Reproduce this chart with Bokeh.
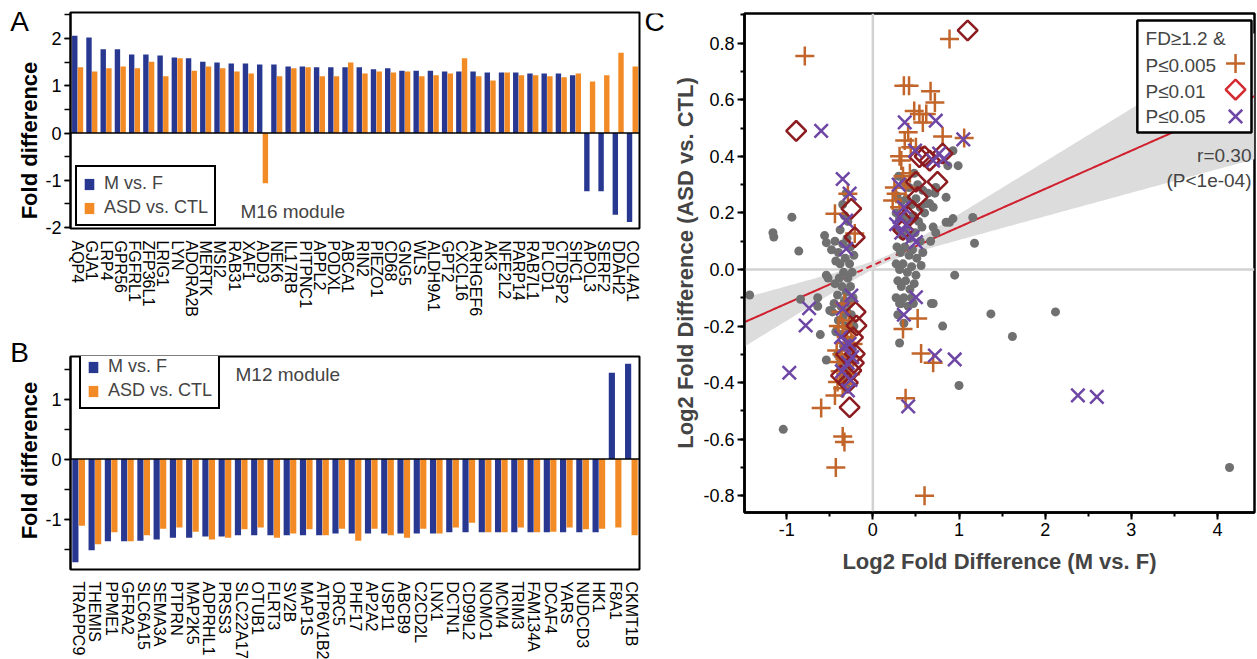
import math
import numpy as np
from bokeh.plotting import figure
from bokeh.layouts import row, column
from bokeh.models import (FactorRange, Range1d, SingleIntervalTicker, Legend, LegendItem,
                          Label, ColumnDataSource, Span, PrintfTickFormatter)
from bokeh.transform import dodge
from bokeh.embed import file_html
from bokeh.resources import INLINE

FONT = "Liberation Sans"
BLUE = "#283891"
ORANGE = "#f28a26"
GRAY = "#707070"
PLUS_C = "#c2652a"
DIAM_C = "#8c1c20"
DIAM_LEG = "#d42a32"
PURPLE = "#6e46a5"

# ---------------- Panel A data (M16 module) ----------------
genes_A = ["AQP4", "GJA1", "LRP4", "GPR56", "FGFRL1", "ZFP36L1", "LRIG1", "LYN", "ADORA2B", "MERTK",
           "MSI2", "RAB31", "XAF1", "ADD3", "NEK6", "IL17RB", "PITPNC1", "APPL2", "PODXL", "ABCA1",
           "RIN2", "PIEZO1", "CD68", "GNG5", "WLS", "ALDH9A1", "GPT2", "CXCL16", "ARHGEF6", "AK3",
           "NFE2L2", "PARP14", "RAB7L1", "PLCD1", "CTDSP2", "SHC1", "APOL3", "SERF2", "DDAH2", "COL4A1"]
mf_A = [2.06, 2.02, 1.77, 1.77, 1.66, 1.66, 1.64, 1.60, 1.58, 1.51,
        1.49, 1.47, 1.47, 1.45, 1.45, 1.41, 1.41, 1.39, 1.39, 1.39,
        1.39, 1.35, 1.37, 1.32, 1.32, 1.32, 1.30, 1.30, 1.30, 1.28,
        1.28, 1.28, 1.26, 1.26, 1.26, 1.22, -1.23, -1.23, -1.73, -1.88]
asd_A = [1.39, 1.30, 1.37, 1.41, 1.37, 1.51, 1.20, 1.58, 1.32, 1.41,
         1.37, 1.30, 1.26, -1.06, 1.20, 1.37, 1.39, 1.20, 1.20, 1.49,
         1.26, 1.30, 1.28, 1.30, 1.20, 1.22, 1.26, 1.58, 1.20, 1.11,
         1.28, 1.22, 1.22, 1.20, 1.18, 1.26, 1.09, 1.22, 1.70, 1.41]

# ---------------- Panel B data (M12 module) ----------------
genes_B = ["TRAPPC9", "THEMIS", "PPME1", "GFRA2", "SLC6A15", "SEMA3A", "PTPRN", "MAP2K5", "ADPRHL1",
           "PRSS3", "SLC22A17", "OTUB1", "FLRT3", "SV2B", "MAP1S", "ATP6V1B2", "ORC5", "PHF17",
           "AP2A2", "USP11", "ABCB9", "C2CD2L", "LNX1", "DCTN1", "CD99L2", "NOMO1", "MCM4", "TRIM3",
           "FAM134A", "DCAF4", "YARS", "NUDCD3", "HK1", "F8A1", "CKMT1B"]
mf_B = [-1.72, -1.52, -1.37, -1.37, -1.36, -1.34, -1.31, -1.31, -1.29, -1.29,
        -1.27, -1.27, -1.27, -1.27, -1.27, -1.27, -1.24, -1.24, -1.24, -1.24,
        -1.24, -1.24, -1.24, -1.22, -1.22, -1.22, -1.22, -1.22, -1.22, -1.22,
        -1.22, -1.22, -1.22, 1.44, 1.59]
asd_B = [-1.11, -1.42, -1.22, -1.37, -1.27, -1.16, -1.14, -1.21, -1.34, -1.31,
         -1.17, -1.14, -1.31, -1.24, -1.17, -1.27, -1.16, -1.36, -1.16, -1.27,
         -1.31, -1.16, -1.24, -1.14, -1.06, -1.22, -1.22, -1.14, -1.22, -1.21,
         -1.14, -1.17, -1.16, -1.14, -1.27]

# ---------------- Panel C data (log2 FD M vs F, log2 FD ASD vs CTL) ----------------
gray_pts = [
    (-1.43, -0.09), (-1.16, 0.13), (-1.15, 0.115), (-0.94, 0.185), (-0.86, 0.065), (-1.04, -0.565),
    (-0.84, -0.105), (-0.64, -0.13), (-0.64, -0.10), (-0.61, -0.23), (-0.54, -0.32), (-0.56, 0.12),
    (-0.54, 0.095), (-0.54, -0.02), (-0.52, -0.03), (-0.50, -0.145),
    (1.37, -0.157), (2.12, -0.15), (1.62, -0.237), (0.81, -0.20), (1.00, -0.41), (4.14, -0.70),
    (0.99, 0.367), (0.93, 0.42), (0.87, 0.367), (0.85, 0.255), (1.16, 0.184), (1.18, 0.093),
    (0.95, -0.02), (0.93, 0.18), (0.85, 0.167), (0.89, 0.167), (0.73, 0.13), (0.70, 0.15),
    (0.67, 0.10), (0.72, 0.27), (0.62, 0.233), (0.66, 0.233), (0.64, 0.27), (0.73, 0.29),
    (0.70, 0.22), (0.56, 0.014), (0.68, -0.12), (0.70, -0.12), (0.31, -0.26), (0.33, -0.12),
    (0.47, -0.12),
    # right cluster
    (0.30, 0.33), (0.36, 0.31), (0.42, 0.29), (0.48, 0.34), (0.52, 0.30), (0.58, 0.28),
    (0.28, 0.26), (0.33, 0.24), (0.39, 0.25), (0.45, 0.23), (0.50, 0.25), (0.55, 0.22), (0.60, 0.20),
    (0.27, 0.20), (0.31, 0.18), (0.36, 0.19), (0.41, 0.17), (0.47, 0.19), (0.53, 0.17), (0.57, 0.15),
    (0.29, 0.14), (0.34, 0.12), (0.38, 0.14), (0.43, 0.11), (0.49, 0.13), (0.55, 0.10),
    (0.28, 0.08), (0.32, 0.06), (0.37, 0.08), (0.42, 0.05), (0.46, 0.07), (0.51, 0.04), (0.58, 0.06),
    (0.27, 0.02), (0.31, 0.00), (0.35, 0.02), (0.40, -0.01), (0.45, 0.01), (0.50, -0.02),
    (0.29, -0.04), (0.33, -0.06), (0.38, -0.04), (0.43, -0.07), (0.48, -0.05),
    (0.27, -0.10), (0.31, -0.12), (0.36, -0.10), (0.41, -0.13), (0.45, -0.10),
    (0.29, -0.16), (0.36, -0.19),
    # left cluster
    (-0.35, 0.23), (-0.31, 0.27), (-0.29, 0.17), (-0.33, 0.19), (-0.38, 0.14), (-0.44, 0.10), (-0.48, 0.07),
    (-0.40, 0.06), (-0.35, 0.09), (-0.30, 0.11), (-0.26, 0.08), (-0.32, 0.04), (-0.38, 0.02), (-0.43, 0.03),
    (-0.27, 0.02), (-0.34, -0.01), (-0.29, -0.03), (-0.24, -0.01), (-0.39, -0.03), (-0.44, -0.05),
    (-0.36, -0.06), (-0.31, -0.08), (-0.26, -0.06), (-0.41, -0.09), (-0.33, -0.11), (-0.28, -0.12),
    (-0.23, -0.10), (-0.37, -0.13), (-0.45, -0.12), (-0.30, -0.15), (-0.35, -0.17), (-0.25, -0.16),
    (-0.40, -0.18), (-0.32, -0.20), (-0.27, -0.21), (-0.37, -0.23), (-0.43, -0.22), (-0.29, -0.25),
    (-0.34, -0.27), (-0.24, -0.28), (-0.31, -0.31), (-0.38, -0.33), (-0.41, -0.30), (-0.28, -0.35),
    (-0.33, -0.38), (-0.30, -0.42), (-0.22, -0.20), (-0.22, 0.05), (-0.47, -0.15),
]
plus_pts = [
    (-0.79, 0.755), (0.89, 0.815), (-0.60, -0.49), (-0.35, -0.59), (-0.33, -0.61), (-0.43, -0.70),
    (0.60, -0.80), (0.38, -0.455), (0.35, -0.21), (0.52, -0.173), (0.56, -0.297), (0.70, -0.33),
    (0.36, 0.65), (0.42, 0.65), (0.67, 0.63), (0.72, 0.59), (0.48, 0.56), (0.54, 0.55), (0.62, 0.55),
    (0.58, 0.52), (0.41, 0.485), (0.37, 0.456), (0.81, 0.47), (1.06, 0.465), (0.50, 0.432),
    (0.44, 0.432), (0.31, 0.40), (0.33, 0.385), (0.25, 0.29), (0.27, 0.268), (0.23, 0.244),
    (0.31, 0.22), (0.38, 0.29), (0.43, 0.34), (0.35, 0.33),
    (-0.29, 0.268), (-0.44, 0.197), (-0.21, 0.127),
    (-0.35, -0.204), (-0.42, -0.286), (-0.31, -0.239), (-0.23, -0.263), (-0.39, -0.327), (-0.23, -0.31),
    (-0.41, -0.398), (-0.31, -0.404), (-0.44, -0.445), (-0.35, -0.42), (-0.37, -0.15), (-0.28, -0.18),
    (-0.26, -0.37), (-0.36, -0.30), (-0.30, -0.26), (-0.25, -0.22), (-0.38, -0.36), (-0.27, -0.33),
    (-0.33, -0.12), (-0.40, -0.20),
]
diam_pts = [
    (-0.89, 0.49), (1.10, 0.845), (0.81, 0.41), (0.60, 0.40), (0.54, 0.397), (0.66, 0.385), (0.75, 0.31),
    (0.50, 0.31), (0.52, 0.256), (0.46, 0.208), (0.41, 0.185), (0.35, 0.14),
    (-0.25, 0.215), (-0.21, 0.114), (-0.19, -0.198), (-0.21, -0.298), (-0.25, -0.357), (-0.37, -0.375),
    (-0.27, -0.487), (-0.23, -0.24), (-0.22, -0.33), (-0.29, -0.40), (-0.31, -0.30), (-0.20, -0.15),
]
x_pts = [
    (-0.60, 0.49), (2.38, -0.445), (2.60, -0.45), (0.72, -0.304), (0.95, -0.318), (0.41, -0.484),
    (0.36, -0.16), (0.50, -0.098), (-0.78, -0.198), (-0.74, -0.137), (-0.97, -0.365),
    (1.05, 0.46), (0.37, 0.52), (0.73, 0.526), (0.77, 0.41), (0.82, 0.39), (0.70, 0.385), (0.49, 0.42),
    (0.31, 0.185), (0.39, 0.16), (0.46, 0.114), (0.50, 0.097), (0.27, 0.16), (0.36, 0.22), (0.33, 0.13),
    (0.30, 0.30),
    (-0.35, 0.32), (-0.27, 0.268), (-0.31, 0.173), (-0.31, 0.073), (-0.25, -0.092), (-0.35, -0.139),
    (-0.37, -0.239), (-0.27, -0.263), (-0.29, -0.427), (-0.33, -0.27), (-0.26, -0.39),
    (-0.29, -0.33), (-0.36, -0.36), (-0.24, -0.31),
]
reg_intercept = 0.015
reg_slope = 0.135
ci_min_halfwidth = 0.012
ci_spread = 0.052
ci_center = 0.15
legend_labels_C = ["FD\u22651.2 &", "P\u22640.005", "P\u22640.01", "P\u22640.05"]
stat_labels = ["r=0.30", "(P<1e-04)"]


def side_panel(width, height, y_top, y_bottom, texts):
    """Blank strip whose data y equals minus the page y (frame spanning y_top..y_bottom)."""
    s = figure(width=width, height=height, x_range=Range1d(0, width),
               y_range=Range1d(-y_bottom, -y_top),
               title=None, min_border=0, min_border_left=0, min_border_right=0, min_border_top=0,
               min_border_bottom=0, x_axis_location=None, y_axis_location=None,
               output_backend="svg", toolbar_location=None)
    s.outline_line_color = None
    s.xgrid.visible = False
    s.ygrid.visible = False
    for (tx, ty, txt, size, style, ang) in texts:
        s.add_layout(Label(x=tx, y=-ty, text=txt, angle=ang, text_font=FONT,
                           text_font_size=size, text_font_style=style, text_align="center",
                           text_baseline="middle", text_color="black"))
    return s


def bar_panel(genes, mf, asd, y0, y1, fh, top, bottom, legend_loc, module_text, module_xy):
    src = ColumnDataSource(dict(gene=genes, mf=mf, asd=asd))
    p = figure(x_range=FactorRange(factors=genes), y_range=Range1d(y0, y1),
               frame_width=569, frame_height=fh, min_border_left=26, min_border_right=3,
               min_border_top=top, min_border_bottom=bottom, title=None,
               output_backend="svg", toolbar_location=None)
    rb = p.vbar(x=dodge('gene', -0.2, range=p.x_range), top='mf', width=0.38, source=src,
                fill_color=BLUE, line_color=None)
    ro = p.vbar(x=dodge('gene', 0.2, range=p.x_range), top='asd', width=0.38, source=src,
                fill_color=ORANGE, line_color=None)
    p.add_layout(Span(location=0, dimension='width', line_color='black', line_width=1.5))
    p.xgrid.visible = False
    p.ygrid.visible = False
    p.outline_line_color = "black"
    p.outline_line_width = 2
    p.outline_line_alpha = 1
    ya = p.yaxis[0]
    ya.ticker = SingleIntervalTicker(interval=1, num_minor_ticks=2)
    ya.formatter = PrintfTickFormatter(format="%d")
    ya.major_label_text_font = FONT
    ya.major_label_text_font_size = "18px"
    ya.major_label_text_color = "black"
    ya.major_label_standoff = 3
    ya.major_tick_in = 0
    ya.major_tick_out = 6
    ya.minor_tick_in = 0
    ya.minor_tick_out = 6
    ya.axis_line_width = 2
    ya.major_tick_line_width = 1.5
    ya.minor_tick_line_width = 1.5
    xa = p.xaxis[0]
    xa.major_label_orientation = "vertical"
    xa.axis_line_color = None
    xa.major_tick_line_color = None
    xa.minor_tick_line_color = None
    xa.major_label_text_font = FONT
    xa.major_label_text_font_size = "16px"
    xa.major_label_text_color = "black"
    xa.major_label_standoff = 6
    leg = Legend(items=[LegendItem(label="M vs. F", renderers=[rb]),
                        LegendItem(label="ASD vs. CTL", renderers=[ro])],
                 location=legend_loc, orientation="vertical")
    leg.label_text_font = FONT
    leg.label_text_font_size = "18px"
    leg.glyph_width = 12
    leg.glyph_height = 14
    leg.label_height = 18
    leg.label_standoff = 9
    leg.spacing = 3
    leg.padding = 6
    leg.margin = 0
    leg.border_line_color = "black"
    leg.border_line_width = 2.5
    leg.border_line_alpha = 1
    leg.background_fill_alpha = 1
    p.add_layout(leg)
    p.add_layout(Label(x=module_xy[0], y=module_xy[1], text=module_text, text_font=FONT,
                       text_font_size="19px", text_baseline="middle", text_align="left"))
    return p


pA = bar_panel(genes_A, mf_A, asd_A, -2.02, 2.55, 216, 12, 107, (5, 2), "M16 module",
               (11.95, -1.67))
pB = bar_panel(genes_B, mf_B, asd_B, -1.84, 1.71, 213, 21, 90, (9, 160), "M12 module",
               (10.15, 1.41))
# one tall strip left of both bar panels (page coordinates)
sL = side_panel(42, 659, 0, 659, [(19, 21, "A", "28px", "normal", 0),
                                  (29, 140, "Fold difference", "22px", "bold", math.pi / 2),
                                  (19, 352, "B", "28px", "normal", 0),
                                  (29, 460, "Fold difference", "22px", "bold", math.pi / 2)])
# strip left of panel C: its frame is aligned with panel C's frame (page y 13..512)
sC = side_panel(22, 659, 13, 512, [(12, 21, "C", "28px", "normal", 0)])

# ---------------- Panel C ----------------
X0, X1, Y0, Y1 = -1.49, 4.43, -0.859, 0.905
pC = figure(x_range=Range1d(X0, X1), y_range=Range1d(Y0, Y1),
            frame_width=510, frame_height=499, min_border_left=80, min_border_right=5,
            min_border_top=13, min_border_bottom=147, title=None,
            output_backend="svg", toolbar_location=None)
pC.xgrid.visible = False
pC.ygrid.visible = False
pC.outline_line_color = "black"
pC.outline_line_width = 2.5
pC.outline_line_alpha = 1

xs = np.linspace(X0, X1, 200)
yfit = reg_intercept + reg_slope * xs
hw = np.sqrt(ci_min_halfwidth ** 2 + (ci_spread * (xs - ci_center)) ** 2)
pC.varea(x=xs, y1=yfit - hw, y2=yfit + hw, fill_color="#dcdcdc")
pC.add_layout(Span(location=0, dimension='height', line_color='#d2d2d2', line_width=2.5, level='underlay'))
pC.add_layout(Span(location=0, dimension='width', line_color='#d2d2d2', line_width=2.5, level='underlay'))

seg_a = xs[xs <= -0.2]
seg_b = xs[(xs >= -0.2) & (xs <= 0.25)]
seg_c = xs[xs >= 0.25]
for seg, dash in ((seg_a, "solid"), (seg_b, "6 4"), (seg_c, "solid")):
    pC.line(seg, reg_intercept + reg_slope * seg, line_color="#d0202e", line_width=2, line_dash=dash)

gx, gy = zip(*gray_pts)
pC.scatter(list(gx), list(gy), marker="circle", size=9, fill_color=GRAY, line_color=None)
px_, py_ = zip(*plus_pts)
pC.scatter(list(px_), list(py_), marker="cross", size=19, line_color=PLUS_C, line_width=2.5)
dx, dy = zip(*diam_pts)
pC.scatter(list(dx), list(dy), marker="square", angle=math.pi / 4, size=14, fill_color=None,
           line_color=DIAM_C, line_width=2.5)
xx, xy = zip(*x_pts)
pC.scatter(list(xx), list(xy), marker="x", size=19, line_color=PURPLE, line_width=2.5)

# legend box
pC.quad(left=[3.07], right=[4.395], bottom=[0.484], top=[0.88], fill_color="white",
        line_color="black", line_width=2.5)
for lbl, yy in zip(legend_labels_C, [0.817, 0.721, 0.629, 0.541]):
    pC.add_layout(Label(x=3.165, y=yy, text=lbl, text_font=FONT, text_font_size="19px",
                        text_baseline="middle", text_align="left"))
pC.scatter([4.21], [0.728], marker="cross", size=19, line_color=PLUS_C, line_width=2.5)
pC.scatter([4.21], [0.636], marker="square", angle=math.pi / 4, size=14, fill_color=None,
           line_color=DIAM_LEG, line_width=2.5)
pC.scatter([4.21], [0.541], marker="x", size=19, line_color=PURPLE, line_width=2.5)
for lbl, yy in zip(stat_labels, [0.403, 0.315]):
    pC.add_layout(Label(x=4.395, y=yy, text=lbl, text_font=FONT, text_font_size="19px",
                        text_baseline="middle", text_align="right"))

xa = pC.xaxis[0]
xa.ticker = SingleIntervalTicker(interval=1, num_minor_ticks=2)
xa.formatter = PrintfTickFormatter(format="%d")
ya = pC.yaxis[0]
ya.ticker = SingleIntervalTicker(interval=0.2, num_minor_ticks=2)
ya.formatter = PrintfTickFormatter(format="%.1f")
xa.axis_label = "Log2 Fold Difference (M vs. F)"
ya.axis_label = "Log2 Fold Difference (ASD vs. CTL)"
for ax in (xa, ya):
    ax.axis_label_text_font = FONT
    ax.axis_label_text_font_style = "bold"
    ax.axis_label_text_font_size = "22px"
    ax.axis_label_standoff = 2
    ax.major_label_text_font = FONT
    ax.major_label_text_font_size = "18px"
    ax.major_label_text_color = "black"
    ax.major_label_standoff = 3
    ax.axis_line_width = 2.5
    ax.major_tick_in = 0
    ax.major_tick_out = 7
    ax.minor_tick_in = 0
    ax.minor_tick_out = 4
    ax.major_tick_line_width = 2
    ax.minor_tick_line_width = 2
xa.axis_label_standoff = 10

layout = row(row(sL, column(pA, pB)), row(sC, pC))
open("out.html", "w").write(file_html(layout, INLINE))
